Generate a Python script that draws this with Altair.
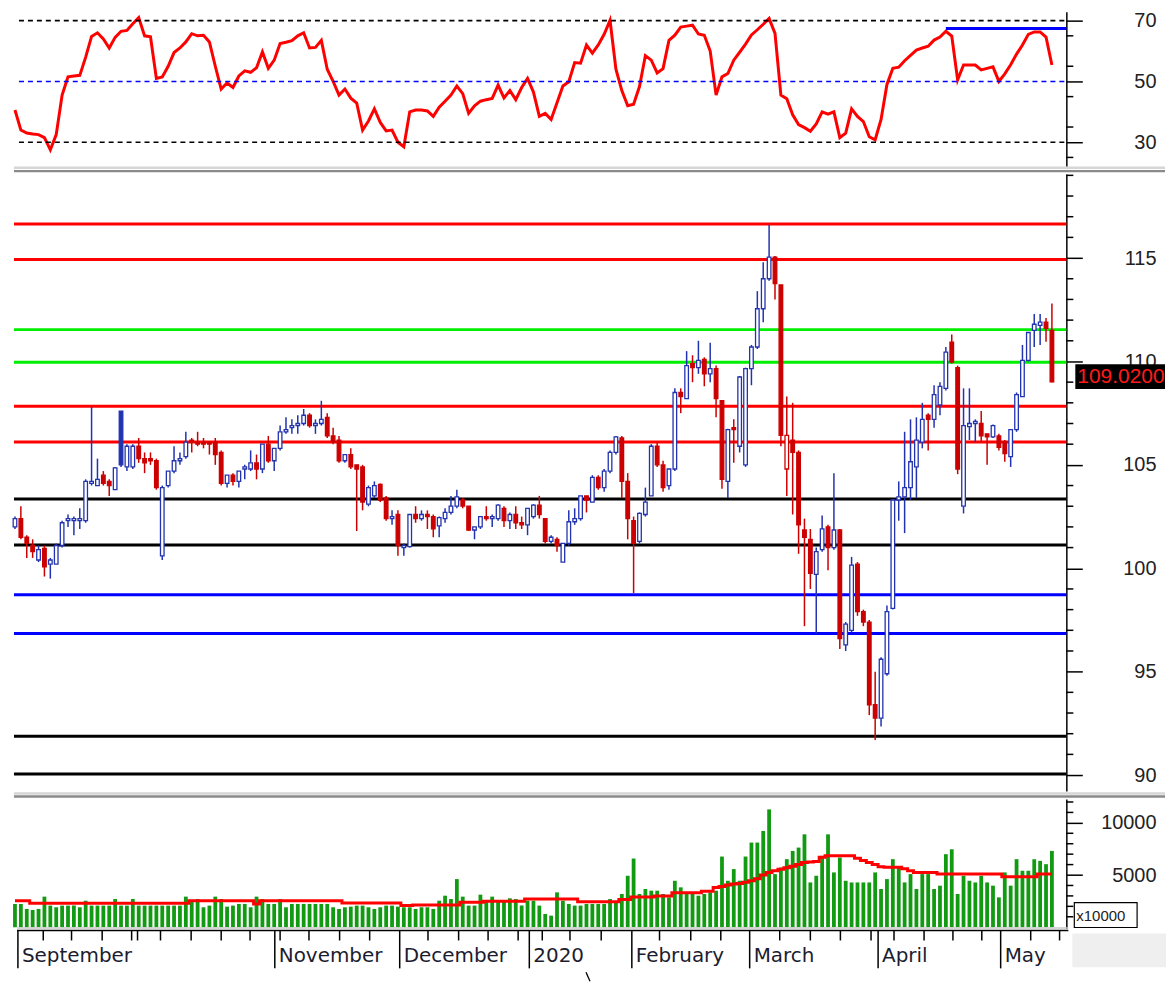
import altair as alt
import pandas as pd
import numpy as np

# ---------------- data ----------------
opens = [102.0, 102.4, 101.5, 101.1, 100.4, 100.96, 100.2, 100.2, 101.1, 102.3,
         102.3, 102.3, 102.3, 104.1, 104.0, 104.5, 104.2, 103.8, 107.6, 104.9,
         104.9, 105.9, 105.3, 105.3, 105.2, 100.6, 104.0, 104.7, 105.2, 105.4,
         106.2, 106.1, 106.1, 106.1, 106.1, 105.6, 104.1, 104.5, 104.2, 104.8,
         104.8, 105.1, 104.8, 106.0, 105.2, 105.8, 106.6, 106.8, 106.9, 107.0,
         107.4, 106.9, 107.0, 107.3, 106.4, 106.2, 105.2, 105.5, 105.0, 104.9,
         103.1, 103.5, 104.05, 103.4, 102.4, 102.6, 101.0, 101.05, 102.6, 102.4,
         102.6, 102.5, 102.05, 102.4, 102.7, 103.0, 103.3, 103.0, 101.85, 102.0,
         102.5, 102.4, 102.4, 102.9, 102.3, 102.6, 102.2, 102.1, 102.5, 103.05,
         102.4, 101.3, 101.4, 100.3, 101.2, 102.25, 102.4, 103.5, 103.2, 104.4,
         103.9, 104.7, 105.6, 106.3, 104.2, 102.3, 101.3, 102.6, 103.5, 105.9,
         105.0, 104.0, 104.8, 108.5, 108.2, 109.9, 109.7, 110.1, 109.4, 109.65,
         108.1, 104.2, 106.8, 105.9, 105.0, 109.65, 110.7, 112.55, 114.0, 115.05,
         113.7, 106.43, 106.2, 105.6, 101.85, 101.4, 99.7, 100.9, 102.0, 101.0,
         101.85, 96.3, 97.0, 100.2, 97.9, 97.4, 93.4, 92.75, 94.9, 98.06,
         103.3, 103.45, 103.9, 104.9, 106.1, 107.4, 107.2, 107.9, 108.7, 110.94,
         109.7, 103.0, 106.85, 107.0, 107.0, 106.5, 106.35, 106.4, 106.1, 105.4,
         106.7, 108.3, 110.05, 111.5, 111.75, 111.9, 111.5]
highs = [102.5, 103.0, 101.6, 101.4, 101.1, 101.1, 100.5, 101.2, 102.3, 102.6,
         102.5, 102.9, 104.3, 107.8, 105.3, 104.7, 104.3, 104.9, 107.6, 106.0,
         106.0, 106.3, 105.6, 105.6, 105.3, 104.0, 104.7, 105.9, 105.6, 106.6,
         106.3, 106.6, 106.3, 106.1, 106.3, 105.7, 104.5, 104.6, 104.7, 105.0,
         105.7, 105.5, 106.0, 106.4, 105.8, 106.9, 107.3, 107.2, 107.4, 107.7,
         107.5, 107.2, 108.1, 107.5, 106.8, 106.4, 105.5, 105.8, 105.0, 105.0,
         104.0, 104.2, 104.1, 103.5, 102.8, 102.8, 101.2, 102.6, 103.0, 102.8,
         102.8, 102.6, 102.5, 102.9, 103.5, 103.8, 103.4, 103.0, 102.0, 102.5,
         103.0, 102.6, 103.1, 103.0, 102.7, 103.0, 102.5, 102.9, 103.1, 103.5,
         102.4, 101.6, 101.5, 101.2, 102.8, 102.9, 103.5, 103.5, 104.5, 104.5,
         104.8, 105.7, 106.4, 106.4, 104.6, 102.5, 102.7, 103.9, 106.0, 106.1,
         105.2, 104.8, 108.7, 108.7, 110.5, 110.3, 111.0, 110.2, 110.9, 109.8,
         108.1, 106.75, 107.2, 109.3, 109.7, 110.8, 113.4, 114.8, 116.6, 115.1,
         113.7, 108.3, 108.0, 105.7, 102.4, 101.9, 101.0, 102.55, 102.1, 104.6,
         101.9, 97.4, 100.55, 100.3, 98.0, 97.5, 95.0, 95.7, 98.2, 103.35,
         104.2, 106.6, 107.2, 107.3, 108.0, 107.5, 108.85, 109.0, 110.7, 111.3,
         109.8, 108.7, 108.7, 107.2, 107.6, 106.5, 106.95, 106.5, 106.2, 106.7,
         108.5, 110.8, 111.4, 112.3, 112.3, 112.1, 112.8]
lows = [101.9, 101.4, 100.5, 100.5, 100.3, 99.6, 99.5, 100.2, 101.0, 102.0,
        101.6, 101.9, 102.2, 104.0, 104.0, 104.0, 103.5, 103.8, 104.9, 104.7,
        104.8, 105.1, 104.6, 105.0, 103.8, 100.4, 103.9, 104.6, 105.0, 105.3,
        105.6, 105.9, 105.8, 105.5, 105.0, 104.0, 103.9, 104.0, 103.9, 104.3,
        104.7, 104.3, 104.6, 105.1, 104.7, 105.7, 106.5, 106.5, 106.5, 106.9,
        106.8, 106.5, 106.9, 106.3, 106.0, 105.1, 105.1, 104.8, 101.8, 102.8,
        103.0, 103.4, 103.2, 102.3, 102.1, 100.6, 100.6, 101.0, 102.2, 102.3,
        101.9, 101.5, 101.5, 102.2, 102.6, 102.9, 102.9, 101.8, 101.4, 101.9,
        102.3, 102.0, 102.3, 102.0, 101.9, 101.9, 101.9, 101.6, 102.4, 102.4,
        101.2, 101.2, 100.8, 100.3, 101.1, 102.1, 102.3, 102.7, 103.2, 103.8,
        103.7, 104.6, 105.5, 103.4, 101.4, 98.8, 101.2, 102.5, 103.5, 104.9,
        103.7, 103.8, 104.7, 107.5, 108.2, 109.0, 109.4, 108.8, 109.0, 107.3,
        103.85, 103.4, 105.1, 105.6, 104.9, 108.85, 110.6, 111.9, 113.9, 113.0,
        105.9, 103.5, 102.6, 100.7, 97.2, 99.0, 96.85, 100.8, 99.9, 100.9,
        96.1, 96.0, 96.9, 97.7, 97.2, 92.9, 91.7, 92.35, 94.8, 98.0,
        102.3, 101.7, 103.3, 103.4, 105.8, 105.7, 106.8, 107.4, 108.6, 109.9,
        104.55, 102.65, 106.2, 106.1, 106.1, 105.0, 106.3, 105.7, 105.15, 104.9,
        106.6, 108.3, 110.0, 110.7, 110.8, 110.95, 109.0]
closes = [102.4, 101.5, 101.2, 100.8, 100.9, 100.07, 100.4, 101.1, 102.2, 102.4,
          102.4, 102.4, 104.2, 104.2, 104.3, 104.1, 104.0, 104.85, 105.0, 105.9,
          105.9, 105.3, 105.1, 105.2, 103.9, 103.9, 104.7, 105.2, 105.3, 106.1,
          106.1, 106.0, 106.0, 106.0, 105.5, 104.1, 104.5, 104.2, 104.7, 104.9,
          105.1, 104.8, 106.0, 105.2, 105.8, 106.6, 106.7, 106.9, 107.0, 107.4,
          106.9, 107.0, 107.2, 106.4, 106.1, 105.2, 105.5, 104.9, 104.8, 103.2,
          103.9, 104.0, 103.3, 102.4, 102.5, 101.1, 101.1, 102.6, 102.4, 102.6,
          102.5, 101.9, 102.45, 102.7, 103.0, 103.45, 103.0, 101.85, 102.0, 102.5,
          102.4, 102.5, 103.05, 102.3, 102.6, 102.2, 102.1, 102.9, 103.05, 102.6,
          101.3, 101.5, 101.1, 101.2, 102.25, 102.4, 103.5, 103.3, 104.4, 103.9,
          104.7, 105.6, 106.35, 104.2, 102.4, 101.2, 102.65, 103.2, 105.9, 105.0,
          103.9, 104.8, 108.5, 108.3, 109.8, 109.7, 110.05, 109.4, 109.65, 108.2,
          104.3, 106.7, 106.7, 109.25, 109.65, 110.7, 112.55, 114.0, 115.05, 113.76,
          106.43, 104.8, 105.6, 102.1, 101.5, 99.75, 100.8, 101.9, 101.0, 101.85,
          96.6, 97.3, 100.15, 97.9, 97.4, 93.4, 92.75, 95.6, 97.9, 103.3,
          103.45, 103.9, 105.15, 106.2, 107.2, 107.2, 108.4, 108.8, 110.45, 109.97,
          104.8, 106.9, 107.0, 107.1, 106.4, 106.35, 106.9, 105.85, 105.55, 106.7,
          108.4, 110.05, 111.4, 111.8, 111.9, 111.6, 109.02]
filled_blue_idx = [18]
hollow_red_idx = [131]

rsi = [40.6, 34.0, 33.0, 32.7, 32.5, 31.5, 27.5, 32.5, 45.5, 51.5,
       51.8, 52.0, 58.0, 64.8, 66.0, 64.0, 61.0, 64.5, 66.5, 66.8,
       69.0, 71.0, 65.0, 64.7, 51.0, 51.5, 55.0, 59.5, 61.0, 63.0,
       65.7, 65.0, 65.2, 63.0, 55.0, 47.5, 49.5, 48.0, 51.8, 53.5,
       53.0, 54.5, 59.7, 54.3, 57.0, 62.5, 62.9, 63.4, 65.0, 66.0,
       61.0, 61.2, 63.5, 54.0, 50.0, 45.5, 47.5, 44.5, 42.9, 34.0,
       37.0, 41.0, 36.5, 33.7, 34.0, 30.0, 28.5, 40.0, 40.6, 40.6,
       40.3, 38.5, 41.5, 43.5, 45.5, 48.5, 46.0, 39.5, 42.0, 43.5,
       44.0, 44.4, 48.8, 44.6, 47.0, 44.0, 48.0, 51.0, 46.5, 38.5,
       39.5, 37.5, 43.0, 48.5, 49.9, 56.2, 56.0, 62.0, 59.3, 62.0,
       65.5, 70.1, 54.0, 47.0, 42.0, 42.5, 48.3, 58.5, 57.0, 52.8,
       54.2, 63.5, 65.2, 67.9, 68.2, 68.5, 65.6, 65.2, 60.0, 45.5,
       51.5, 52.6, 57.0, 59.6, 62.3, 65.3, 67.0, 68.8, 70.7, 65.8,
       45.5, 44.3, 39.0, 35.8, 34.8, 33.6, 36.0, 40.0, 39.2, 40.0,
       31.5, 33.0, 41.0, 38.5, 36.8, 31.8, 30.8, 37.5, 49.0, 54.3,
       54.7, 56.8, 58.6, 60.3, 61.0, 61.6, 63.6, 64.6, 66.5, 64.9,
       50.5, 55.4, 55.4, 55.4, 53.8, 54.3, 54.8, 50.0, 52.5, 55.5,
       59.0, 62.0, 65.5, 66.3, 66.3, 64.6, 55.4]

volume = [2230, 2230, 1750, 1650, 1750, 2930, 2070, 1910, 2070, 2070,
          2070, 1910, 2540, 2070, 2070, 2070, 2070, 2700, 2070, 2070,
          2700, 2070, 2070, 2070, 2070, 2070, 2070, 2070, 2070, 2930,
          2540, 2700, 1910, 2070, 2930, 2700, 1970, 2070, 2230, 2230,
          1910, 2930, 2700, 2230, 2230, 2700, 1910, 2230, 2230, 2230,
          2230, 2230, 2230, 2230, 1910, 1750, 1910, 1970, 2070, 2070,
          1910, 1750, 1910, 2070, 2070, 1970, 1910, 1910, 1750, 1910,
          1910, 1750, 2540, 3020, 2700, 4610, 2930, 2070, 2070, 3120,
          2540, 2930, 2540, 2540, 2770, 2700, 2070, 2540, 2540, 2070,
          1270, 1110, 3340, 2540, 2230, 2070, 2070, 2230, 2230, 2230,
          2230, 2700, 2390, 3180, 4930, 6580, 3180, 3660, 3500, 3500,
          3180, 2860, 4450, 3820, 3340, 3340, 3020, 3180, 3340, 3500,
          6770, 4450, 5570, 4450, 6770, 8110, 8110, 9220, 11290, 5090,
          5720, 6520, 7310, 7630, 8900, 4290, 4930, 6840, 8900, 5250,
          6680, 4450, 4290, 4290, 4290, 4290, 5250, 3660, 4610, 6520,
          5720, 4290, 5090, 3660, 5090, 5090, 3660, 3980, 7000, 7470,
          3180, 4930, 4450, 4290, 4930, 4290, 3980, 2860, 5250, 3980,
          6520, 5410, 5410, 6520, 6360, 6040, 7310]
volume_ma = [2540, 2540, 2540, 2290, 2290, 2290, 2290, 2290, 2290, 2290,
             2290, 2290, 2290, 2290, 2290, 2290, 2290, 2290, 2290, 2290,
             2290, 2290, 2290, 2290, 2290, 2290, 2290, 2290, 2290, 2290,
             2540, 2540, 2540, 2540, 2540, 2540, 2540, 2540, 2540, 2540,
             2540, 2230, 2540, 2540, 2540, 2540, 2540, 2540, 2540, 2540,
             2540, 2540, 2540, 2540, 2540, 2540, 2320, 2320, 2320, 2320,
             2320, 2320, 2320, 2320, 2320, 2320, 2070, 2070, 2130, 2130,
             2130, 2130, 2130, 2130, 2130, 2130, 2390, 2390, 2390, 2390,
             2480, 2480, 2480, 2480, 2480, 2480, 2480, 2700, 2700, 2700,
             2700, 2700, 2700, 2700, 2700, 2700, 2450, 2450, 2450, 2450,
             2450, 2450, 2450, 2650, 2650, 2900, 2900, 2900, 2900, 3000,
             3000, 3000, 3300, 3300, 3300, 3300, 3300, 3450, 3450, 3800,
             3900, 4050, 4150, 4200, 4300, 4450, 4650, 5000, 5250, 5400,
             5550, 5700, 5850, 6000, 6200, 6250, 6300, 6700, 6840, 6840,
             6840, 6840, 6840, 6600, 6400, 6200, 6000, 5800, 5750, 5750,
             5750, 5600, 5400, 5250, 5250, 5250, 5250, 5090, 5090, 5090,
             5090, 5090, 5090, 5090, 5090, 5090, 5090, 5090, 4830, 4830,
             4830, 4830, 4830, 4830, 5090, 5090, 5090]

red_levels = [116.65, 114.93, 107.83, 106.1]
green_levels = [111.54, 109.96]
black_levels = [103.35, 101.13, 91.88, 90.05]
blue_levels = [98.72, 96.84]

rsi_dashed_black = [70, 30]
rsi_dashed_blue = [50]
rsi_resist_level = 67.4
rsi_resist_start = 158.0

price_major = [90, 95, 100, 105, 110, 115]
price_minor = [91, 92, 93, 94, 96, 97, 98, 99, 101, 102, 103, 104, 106, 107, 108, 109,
               111, 112, 113, 114, 116, 117, 118, 119]
rsi_major = [30, 40, 50, 60, 70]
rsi_minor = [25, 35, 45, 55, 65]
vol_major = [5000, 10000]
vol_minor = [1000, 2000, 3000, 4000, 6000, 7000, 8000, 9000, 11000, 12000]

month_labels = ["September", "November", "December", "2020", "February", "March", "April", "May"]
month_pos = [0.5, 44.1, 65.3, 87.3, 104.7, 124.7, 146.5, 167.3]
week_pos = [4.8, 9.6, 14.8, 19.8, 20.8, 24.7, 29.9, 35.0, 39.9, 45.0, 49.9, 55.1, 60.2,
            70.1, 75.3, 80.3, 85.4, 89.5, 94.2, 99.5, 109.4, 114.7, 119.8, 129.8, 135.0,
            140.1, 145.3, 149.2, 154.3, 159.2, 164.1, 172.4, 177.3]

# ---------------- frames ----------------
N = len(closes)
df = pd.DataFrame({"i": np.arange(N), "o": opens, "h": highs, "l": lows, "c": closes,
                   "rsi": rsi, "vol": volume, "ma": volume_ma})
df["top"] = df[["o", "c"]].max(axis=1)
df["bot"] = df[["o", "c"]].min(axis=1)
df["kind"] = np.where(df["c"] >= df["o"], "up", "down")
df.loc[filled_blue_idx, "kind"] = "upfill"
df.loc[hollow_red_idx, "kind"] = "downhollow"

W = 1058
H_RSI, H_MAIN, H_VOL = 155, 619, 130
BLUE_C = "#2233b0"
RED_C = "#cc0000"
LABEL_FONT = "Liberation Sans"
TXT = "#222222"

xs = alt.Scale(domain=[-0.507, 178.45], nice=False, zero=False, padding=0)
rs = alt.Scale(domain=[22.13, 72.95], nice=False, zero=False, padding=0)
ps = alt.Scale(domain=[89.23, 119.06], nice=False, zero=False, padding=0)
vs = alt.Scale(domain=[-124, 12290], nice=False, zero=False, padding=0)

one = pd.DataFrame({"k": [0]})


def right_axis(values, fmt=None):
    kw = dict(orient="right", values=values, tickSize=16, tickWidth=1.5, tickColor="black",
              domainColor="black", domainWidth=1.5, labelFont=LABEL_FONT, labelFontSize=20,
              labelColor=TXT, labelAlign="right", labelPadding=74, grid=False, title=None,
              labelFlush=False, labelOverlap=False)
    if fmt:
        kw["format"] = fmt
    return alt.Axis(**kw)


def minor_ticks(values, field_scale):
    return alt.Chart(pd.DataFrame({"v": values})).mark_rule(color="black", strokeWidth=1.5).encode(
        y=alt.Y("v:Q", scale=field_scale), x=alt.value(W), x2=alt.value(W + 7))


def band(y_light, y_dark):
    light = alt.Chart(one).mark_rule(color="#d6d6d6", strokeWidth=2.5).encode(
        x=alt.value(2), x2=alt.value(1157), y=alt.value(y_light))
    dark = alt.Chart(one).mark_rule(color="#8a8a8a", strokeWidth=2.5).encode(
        x=alt.value(2), x2=alt.value(1157), y=alt.value(y_dark))
    return light + dark

# ---------------- RSI panel ----------------
rsi_black = alt.Chart(pd.DataFrame({"v": rsi_dashed_black})).mark_rule(
    color="black", strokeWidth=1.6, strokeDash=[5, 4]).encode(
    y=alt.Y("v:Q", scale=rs), x=alt.value(7), x2=alt.value(W))
rsi_blue = alt.Chart(pd.DataFrame({"v": rsi_dashed_blue})).mark_rule(
    color="#0000ff", strokeWidth=1.6, strokeDash=[5, 4]).encode(
    y=alt.Y("v:Q", scale=rs), x=alt.value(7), x2=alt.value(W))
rsi_res = alt.Chart(pd.DataFrame({"s": [rsi_resist_start], "v": [rsi_resist_level]})).mark_rule(
    color="#0000ff", strokeWidth=3).encode(
    x=alt.X("s:Q", scale=xs, axis=None), x2=alt.value(W), y=alt.Y("v:Q", scale=rs))
rsi_line = alt.Chart(df).mark_line(color="#ff0000", strokeWidth=3).encode(
    x=alt.X("i:Q", scale=xs, axis=None),
    y=alt.Y("rsi:Q", scale=rs, axis=right_axis(rsi_major)))
rsi_chart = alt.layer(rsi_line, rsi_black, rsi_blue, rsi_res, minor_ticks(rsi_minor, rs),
                      band(H_RSI + 1.5, H_RSI + 5)).properties(width=W, height=H_RSI)

# ---------------- price panel ----------------
def level_layer(vals, color):
    return alt.Chart(pd.DataFrame({"v": vals})).mark_rule(color=color, strokeWidth=3).encode(
        y=alt.Y("v:Q", scale=ps), x=alt.value(2), x2=alt.value(W))

kinds = ["up", "down", "upfill", "downhollow"]
stroke_scale = alt.Scale(domain=kinds, range=[BLUE_C, RED_C, BLUE_C, RED_C])
fill_scale = alt.Scale(domain=kinds, range=["#ffffff", RED_C, BLUE_C, "#ffffff"])

axis_anchor = alt.Chart(pd.DataFrame({"v": price_major})).mark_point(opacity=0).encode(
    y=alt.Y("v:Q", scale=ps, axis=right_axis(price_major)))
wick_up = alt.Chart(df).mark_rule(strokeWidth=1.5).encode(
    x=alt.X("i:Q", scale=xs, axis=None), y=alt.Y("h:Q", scale=ps), y2="top:Q",
    color=alt.Color("kind:N", scale=stroke_scale, legend=None))
wick_dn = alt.Chart(df).mark_rule(strokeWidth=1.5).encode(
    x=alt.X("i:Q", scale=xs, axis=None), y=alt.Y("bot:Q", scale=ps), y2="l:Q",
    color=alt.Color("kind:N", scale=stroke_scale, legend=None))
bodies = alt.Chart(df).mark_bar(width=3.6, strokeWidth=1.3).encode(
    x=alt.X("i:Q", scale=xs, axis=None), y=alt.Y("top:Q", scale=ps), y2="bot:Q",
    stroke=alt.Stroke("kind:N", scale=stroke_scale, legend=None),
    fill=alt.Fill("kind:N", scale=fill_scale, legend=None))

last = closes[-1]
tag_df = pd.DataFrame({"top": [last + 0.85], "bot": [last - 0.35], "mid": [last + 0.25],
                       "label": [f"{last:.4f}"]})
tag_box = alt.Chart(tag_df).mark_rect(color="black").encode(
    x=alt.value(W + 9), x2=alt.value(W + 99), y=alt.Y("top:Q", scale=ps), y2="bot:Q")
tag_txt = alt.Chart(tag_df).mark_text(align="left", baseline="middle", font=LABEL_FONT,
                                      fontSize=21, color="#ff1a1a").encode(
    x=alt.value(W + 11), y=alt.Y("mid:Q", scale=ps), text="label:N")

main_chart = alt.layer(
    axis_anchor,
    level_layer(red_levels, "#ff0000"), level_layer(green_levels, "#00ee00"),
    level_layer(black_levels, "#000000"), level_layer(blue_levels, "#0000ff"),
    wick_up, wick_dn, bodies, minor_ticks(price_minor, ps), tag_box, tag_txt,
    band(H_MAIN + 2.5, H_MAIN + 5.5)
).properties(width=W, height=H_MAIN)

# ---------------- volume panel ----------------
vol_bars = alt.Chart(df).mark_bar(width=3.8, color="#129a12").encode(
    x=alt.X("i:Q", scale=xs, axis=None),
    y=alt.Y("vol:Q", scale=vs, axis=right_axis(vol_major, "d")), y2=alt.datum(0))
vol_ma = alt.Chart(df).mark_line(color="#ff0000", strokeWidth=3, interpolate="step").encode(
    x=alt.X("i:Q", scale=xs, axis=None), y=alt.Y("ma:Q", scale=vs))
unit_box = alt.Chart(one).mark_rect(fill="white", stroke="black", strokeWidth=1.2).encode(
    x=alt.value(W + 8), x2=alt.value(W + 71), y=alt.value(104), y2=alt.value(129))
unit_txt = alt.Chart(one).mark_text(align="left", baseline="middle", font=LABEL_FONT,
                                    fontSize=15, color=TXT).encode(
    x=alt.value(W + 10), y=alt.value(117), text=alt.value("x10000"))
grey_corner = alt.Chart(one).mark_rect(color="#efefef").encode(
    x=alt.value(W + 6), x2=alt.value(W + 100), y=alt.value(135), y2=alt.value(169))
plot_base = alt.Chart(one).mark_rule(color="#c8c8c8", strokeWidth=1.5).encode(
    x=alt.value(5), x2=alt.value(W + 2), y=alt.value(129.5))
axis_base = alt.Chart(one).mark_rule(color="black", strokeWidth=1.5).encode(
    x=alt.value(5), x2=alt.value(W + 2), y=alt.value(132))
mdf = pd.DataFrame({"pos": month_pos, "label": month_labels})
month_rules = alt.Chart(mdf).mark_rule(color="black", strokeWidth=1.5).encode(
    x=alt.X("pos:Q", scale=xs, axis=None), y=alt.value(132), y2=alt.value(170))
month_text = alt.Chart(mdf).mark_text(align="left", baseline="alphabetic", dx=4,
                                      font="DejaVu Sans", fontSize=20, color="#1c1c30").encode(
    x=alt.X("pos:Q", scale=xs, axis=None), y=alt.value(164), text="label:N")
week_rules = alt.Chart(pd.DataFrame({"pos": week_pos})).mark_rule(color="black", strokeWidth=1.5).encode(
    x=alt.X("pos:Q", scale=xs, axis=None), y=alt.value(132), y2=alt.value(142))
slash = alt.Chart(one).mark_rule(color="black", strokeWidth=1.3).encode(
    x=alt.value(576), x2=alt.value(580), y=alt.value(174), y2=alt.value(183))

vol_chart = alt.layer(
    vol_bars, vol_ma, minor_ticks(vol_minor, vs), unit_box, unit_txt, grey_corner,
    plot_base, axis_base, month_rules, week_rules, month_text, slash
).properties(width=W, height=H_VOL)

chart = alt.vconcat(rsi_chart, main_chart, vol_chart, spacing=8, bounds="flush").properties(
    padding=0, background="white").configure_view(stroke=None)

chart.save("out.html", embed_options={"renderer": "svg", "actions": False})
